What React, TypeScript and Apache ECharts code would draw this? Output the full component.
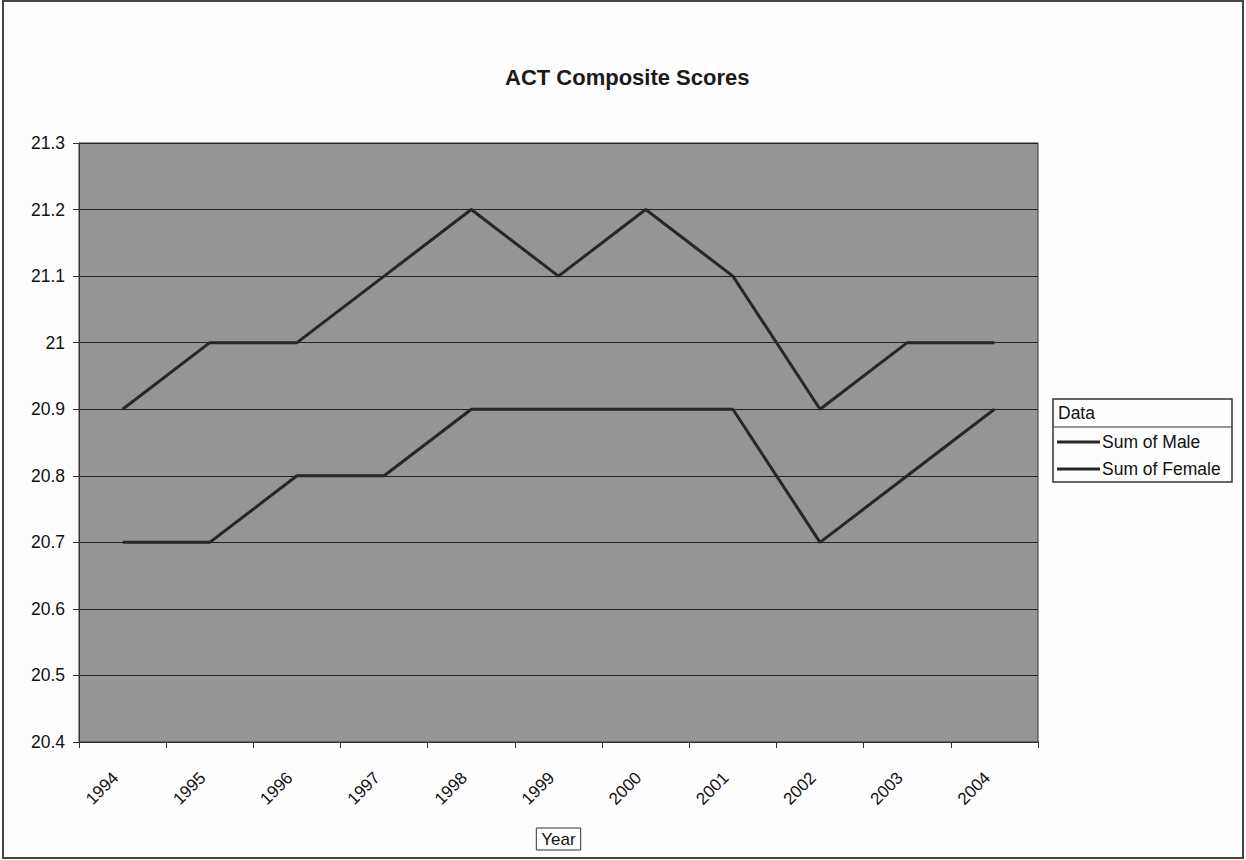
import React, { useEffect, useRef } from "react";
import * as echarts from "echarts";

const years = ["1994", "1995", "1996", "1997", "1998", "1999", "2000", "2001", "2002", "2003", "2004"];
const maleScores = [20.9, 21.0, 21.0, 21.1, 21.2, 21.1, 21.2, 21.1, 20.9, 21.0, 21.0];
const femaleScores = [20.7, 20.7, 20.8, 20.8, 20.9, 20.9, 20.9, 20.9, 20.7, 20.8, 20.9];
const seriesNames = ["Sum of Male", "Sum of Female"];
const yMin = 20.4;
const yMax = 21.3;
const yStep = 0.1;

const FONT = "'Liberation Sans', Arial, sans-serif";
const INK = "#111";

export default function App() {
  const ref = useRef<HTMLDivElement>(null);

  useEffect(() => {
    document.body.style.margin = "0";
    const chart = echarts.init(ref.current!, null, { renderer: "svg" });
    chart.setOption({
      animation: false,
      backgroundColor: "#fdfdfd",
      textStyle: { fontFamily: FONT },
      title: {
        text: "ACT Composite Scores",
        left: 505,
        top: 66,
        padding: 0,
        textStyle: { fontFamily: FONT, fontSize: 22, fontWeight: "bold", color: "#1a1a1a" },
      },
      grid: {
        left: 79,
        right: 208,
        top: 143,
        bottom: 118,
        show: true,
        backgroundColor: "#959595",
        borderColor: "#333",
        borderWidth: 1,
      },
      legend: {
        orient: "vertical",
        left: 1057,
        top: 433,
        padding: 0,
        itemGap: 9,
        itemWidth: 43,
        itemHeight: 3,
        icon: "rect",
        z: 10,
        data: seriesNames,
        textStyle: { fontFamily: FONT, fontSize: 17.5, color: INK, lineHeight: 18, padding: [0, 0, 0, -3] },
      },
      graphic: [
        {
          type: "rect",
          z: 0,
          shape: { x: 3, y: 1, width: 1240, height: 857 },
          style: { fill: "none", stroke: "#444", lineWidth: 2 },
        },
        {
          type: "rect",
          z: 1,
          shape: { x: 1053, y: 399, width: 179, height: 83 },
          style: { fill: "#fdfdfd", stroke: "#333", lineWidth: 1.5 },
        },
        {
          type: "line",
          z: 2,
          shape: { x1: 1053, y1: 427, x2: 1232, y2: 427 },
          style: { stroke: "#333", lineWidth: 1.2 },
        },
        {
          type: "text",
          z: 2,
          x: 1058,
          y: 413,
          style: { text: "Data", fontFamily: FONT, fontSize: 17.5, fill: INK, verticalAlign: "middle" },
        },
      ],
      xAxis: {
        type: "category",
        data: years,
        boundaryGap: true,
        name: "Year",
        nameLocation: "middle",
        nameGap: 86,
        nameTextStyle: {
          fontFamily: FONT,
          fontSize: 17,
          color: INK,
          borderColor: "#333",
          borderWidth: 1,
          padding: [3, 5, 2, 5],
        },
        axisLine: { lineStyle: { color: "#333", width: 1 } },
        axisTick: { show: true, length: 6, lineStyle: { color: "#333" } },
        axisLabel: {
          rotate: 45,
          margin: 26,
          padding: [0, 10, 0, 0],
          fontFamily: FONT,
          fontSize: 17,
          color: INK,
        },
        splitLine: { show: false },
      },
      yAxis: {
        type: "value",
        min: yMin,
        max: yMax,
        interval: yStep,
        axisLine: { show: true, lineStyle: { color: "#333", width: 1 } },
        axisTick: { show: true, length: 6, lineStyle: { color: "#333" } },
        axisLabel: {
          margin: 14,
          fontFamily: FONT,
          fontSize: 17.5,
          color: INK,
          formatter: (v: number) => String(Number(v.toFixed(1))),
        },
        splitLine: { show: true, lineStyle: { color: "#222", width: 1 } },
      },
      series: [
        {
          name: seriesNames[0],
          type: "line",
          data: maleScores,
          symbol: "none",
          lineStyle: { color: "#262626", width: 3 },
          itemStyle: { color: "#262626" },
        },
        {
          name: seriesNames[1],
          type: "line",
          data: femaleScores,
          symbol: "none",
          lineStyle: { color: "#262626", width: 3 },
          itemStyle: { color: "#262626" },
        },
      ],
    });
    return () => chart.dispose();
  }, []);

  return <div ref={ref} style={{ width: 1246, height: 860 }} />;
}
